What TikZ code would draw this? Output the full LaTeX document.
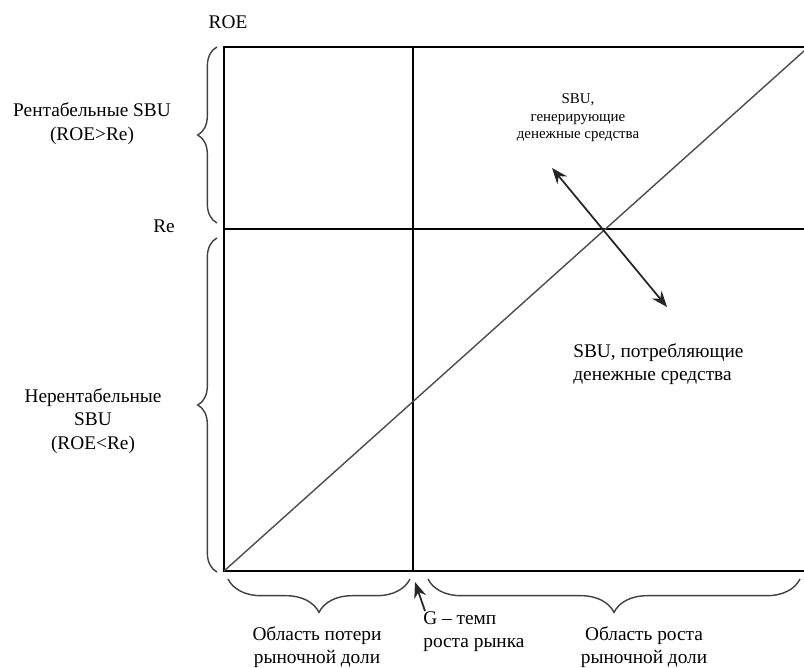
\documentclass[tikz,border=0pt]{standalone}
\usepackage{fontspec}
\setmainfont{Liberation Serif}
\usetikzlibrary{arrows.meta, calc, decorations.pathreplacing}
\tikzset
{
  frame/.style={draw=black,line width=1.1pt},
  diag/.style={draw=black!70,line width=0.8pt},
  bracket/.style={draw=black!75,line width=0.8pt,decorate,decoration={brace,amplitude=#1}},
  label/.style={font=\fontsize{11}{13.5}\selectfont,align=center,inner sep=0pt},
  small label/.style={font=\fontsize{8.5}{10}\selectfont,align=center,inner sep=0pt},
  pointer/.style={draw=black!85,line width=1pt,-{Stealth[length=9pt,width=7pt]}}
}

\begin{document}
\begin{tikzpicture}[x=0.02cm,y=-0.02cm]
    \useasboundingbox (0,0) rectangle (804,668);

    % Corners of the matrix
    \coordinate (bl) at (224,571);
    \coordinate (tl) at (224,47);
    \coordinate (tr) at (804,47);
    \coordinate (br) at (804,571);
    \coordinate (gtop) at (413,47);
    \coordinate (gbot) at (413,571);
    \coordinate (rel) at (224,229);
    \coordinate (rer) at (804,229);
    \coordinate (dtop) at (804,51);

    % Draw frame and diagonal
    \draw[frame] (br) -- (bl) -- (tl) -- (tr);
    \draw[frame] (gbot) -- (gtop);
    \draw[frame] (rel) -- (rer);
    \draw[diag] (bl) -- (dtop);

    % Axis labels
    \node[label] (roe) at (228,22) {ROE};
    \node[label] (re) at (164,226) {Re};

    % Left side
    \node[label] (prof) at (92,124) {Рентабельные SBU\\(ROE>Re)};
    \node[label] (unprof) at (93,421) {Нерентабельные\\SBU\\(ROE<Re)};
    \draw[bracket=11pt] (217,223) -- (217,47);
    \draw[bracket=11pt] (217,572) -- (217,238);

    % Bottom side
    \draw[bracket=19pt] (410,579) -- (228,579);
    \draw[bracket=19pt] (800,579) -- (428,579);
    \node[label] (loss) at (317,647) {Область потери\\рыночной доли};
    \node[label] (grow) at (644,647) {Область роста\\рыночной доли};
    \node[label,align=left,anchor=north west] (g) at (423,611) {G – темп\\роста рынка};
    \coordinate (gtip) at (415,582);
    \draw[pointer] ($(g.north west)+(2,0)$) -- (gtip);

    % Cash flow labels
    \node[small label] (gen) at (578,118) {SBU,\\генерирующие\\денежные средства};
    \node[label,align=left,anchor=north west] (cons) at (573,343) {SBU, потребляющие\\денежные средства};
    \coordinate (up) at (552,168);
    \coordinate (down) at (667,307);
    \draw[pointer,{Stealth[length=9pt,width=7pt]}-{Stealth[length=9pt,width=7pt]}] (up) -- (down);
\end{tikzpicture}
\end{document}
